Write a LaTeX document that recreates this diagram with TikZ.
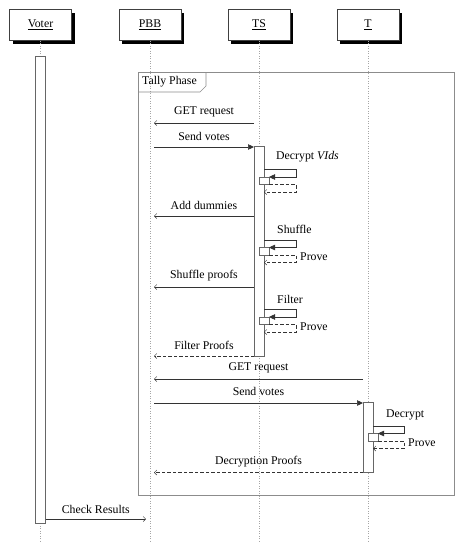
\documentclass[tikz,border=0pt]{standalone}
\usepackage{fontspec}
\setmainfont{Liberation Serif}
\usetikzlibrary{arrows.meta,shadows,calc}
\begin{document}
\begin{tikzpicture}[x=1pt,y=-1pt,
  font=\fontsize{11.8}{13}\selectfont,
  headbox/.style={draw=black!75,fill=white,line width=0.5pt,minimum width=62pt,minimum height=31pt,inner sep=0pt,
    drop shadow={shadow xshift=3pt,shadow yshift=-3pt,fill=black,opacity=1}},
  lifeline/.style={draw=black!35,dotted,line width=0.5pt},
  actbox/.style={draw=black!60,fill=white,line width=0.5pt,minimum width=10pt,inner sep=0pt,outer sep=0pt},
  msg/.style={draw=black!80,line width=0.5pt},
  synctip/.style={-{Triangle[length=6pt,width=5.5pt]}},
  asynctip/.style={-{Straight Barb[length=2.5pt,width=5pt,line width=0.5pt]}},
  retline/.style={dash pattern=on 3.5pt off 2pt},
  lbl/.style={inner sep=0pt,text height=8pt,text depth=2.5pt},
  framebox/.style={draw=black!45,line width=0.9pt}
]
\useasboundingbox (0,0) rectangle (464,550);
% headers
\node[headbox] (hV) at (40.5,25) {\underline{Voter}};
\node[headbox] (hP) at (150,25) {\underline{PBB}};
\node[headbox] (hS) at (259,25) {\underline{TS}};
\node[headbox] (hT) at (368,25) {\underline{T}};
% lifelines
\foreach \h in {hV,hP,hS,hT} \draw[lifeline] (\h.south) -- (\h.south |- 0,543);
\coordinate (xP) at ([xshift=4pt]hP.south);
\coordinate (xPc) at ([xshift=-4pt]hP.south);
% frame
\draw[framebox] (138,72) rectangle (454,495);
\draw[framebox,line width=0.6pt] (138,92) -- (200,92) -- (206,86) -- (206,72);
\node[lbl,anchor=west] (fl) at (142,82) {Tally Phase};
% activations
\node[actbox,anchor=north,minimum height=467pt] (aV) at (hV.south |- 0,56.5) {};
\node[actbox,anchor=north,minimum height=210pt] (aS) at (hS.south |- 0,146.5) {};
\node[actbox,anchor=north,minimum height=70pt] (aT) at (hT.south |- 0,402.5) {};
% GET request
\draw[msg,asynctip] (aS.west |- 0,123) -- (xP |- 0,123) node[lbl,midway,yshift=11pt] (m1) {GET request};
% Send votes
\draw[msg,synctip] (xP |- 0,147) -- (aS.west |- 0,147) node[lbl,midway,yshift=9pt] (m2) {Send votes};
% Decrypt VIds
\node[lbl,anchor=west] (m3) at (276,157) {Decrypt \textit{VIds}};
\node[actbox,anchor=north west,minimum height=7.5pt] (n1) at (hS.south |- 0,177) {};
\draw[msg,synctip] (aS.east |- 0,169.5) -- (296,169.5) -- (296,177) -- (n1.north east);
\draw[msg,retline,asynctip] (n1.south east) -- (296,184.5) -- (296,192) -- (aS.east |- 0,192);
% Add dummies
\draw[msg,asynctip] (aS.west |- 0,216) -- (xP |- 0,216) node[lbl,midway,yshift=9pt] (m4) {Add dummies};
% Shuffle
\node[lbl,anchor=west] (m5) at (277,231) {Shuffle};
\node[actbox,anchor=north west,minimum height=7.5pt] (n2) at (hS.south |- 0,247.5) {};
\draw[msg,synctip] (aS.east |- 0,240) -- (296,240) -- (296,247.5) -- (n2.north east);
\draw[msg,retline,asynctip] (n2.south east) -- (296,255) -- (296,262.5) -- (aS.east |- 0,262.5);
\node[lbl,anchor=west] (m6) at (300,258) {Prove};
% Shuffle proofs
\draw[msg,asynctip] (aS.west |- 0,287) -- (xP |- 0,287) node[lbl,midway,yshift=11pt] (m7) {Shuffle proofs};
% Filter
\node[lbl,anchor=west] (m8) at (277,301) {Filter};
\node[actbox,anchor=north west,minimum height=7.5pt] (n3) at (hS.south |- 0,317) {};
\draw[msg,synctip] (aS.east |- 0,309.5) -- (296,309.5) -- (296,317) -- (n3.north east);
\draw[msg,retline,asynctip] (n3.south east) -- (296,324.5) -- (296,332) -- (aS.east |- 0,332);
\node[lbl,anchor=west] (m9) at (300,328) {Prove};
% Filter Proofs
\draw[msg,retline,asynctip] (aS.west |- 0,356) -- (xP |- 0,356) node[lbl,midway,yshift=9pt] (m10) {Filter Proofs};
% GET request 2
\draw[msg,asynctip] (aT.west |- 0,379) -- (xP |- 0,379) node[lbl,midway,yshift=11pt] (m11) {GET request};
% Send votes 2
\draw[msg,synctip] (xP |- 0,403) -- (aT.west |- 0,403) node[lbl,midway,yshift=10pt] (m12) {Send votes};
% Decrypt
\node[lbl,anchor=west] (m13) at (386,415) {Decrypt};
\node[actbox,anchor=north west,minimum height=7.5pt] (n4) at (hT.south |- 0,433.5) {};
\draw[msg,synctip] (aT.east |- 0,426) -- (404,426) -- (404,433.5) -- (n4.north east);
\draw[msg,retline,asynctip] (n4.south east) -- (404,441) -- (404,448.5) -- (aT.east |- 0,448.5);
\node[lbl,anchor=west] (m14) at (408,444) {Prove};
% Decryption Proofs
\draw[msg,retline,asynctip] (aT.west |- 0,472.5) -- (xP |- 0,472.5) node[lbl,midway,yshift=11pt] (m15) {Decryption Proofs};
% Check Results
\draw[msg,asynctip] (aV.east |- 0,519) -- (xPc |- 0,519) node[lbl,midway,yshift=8pt] (m16) {Check Results};
\end{tikzpicture}
\end{document}
